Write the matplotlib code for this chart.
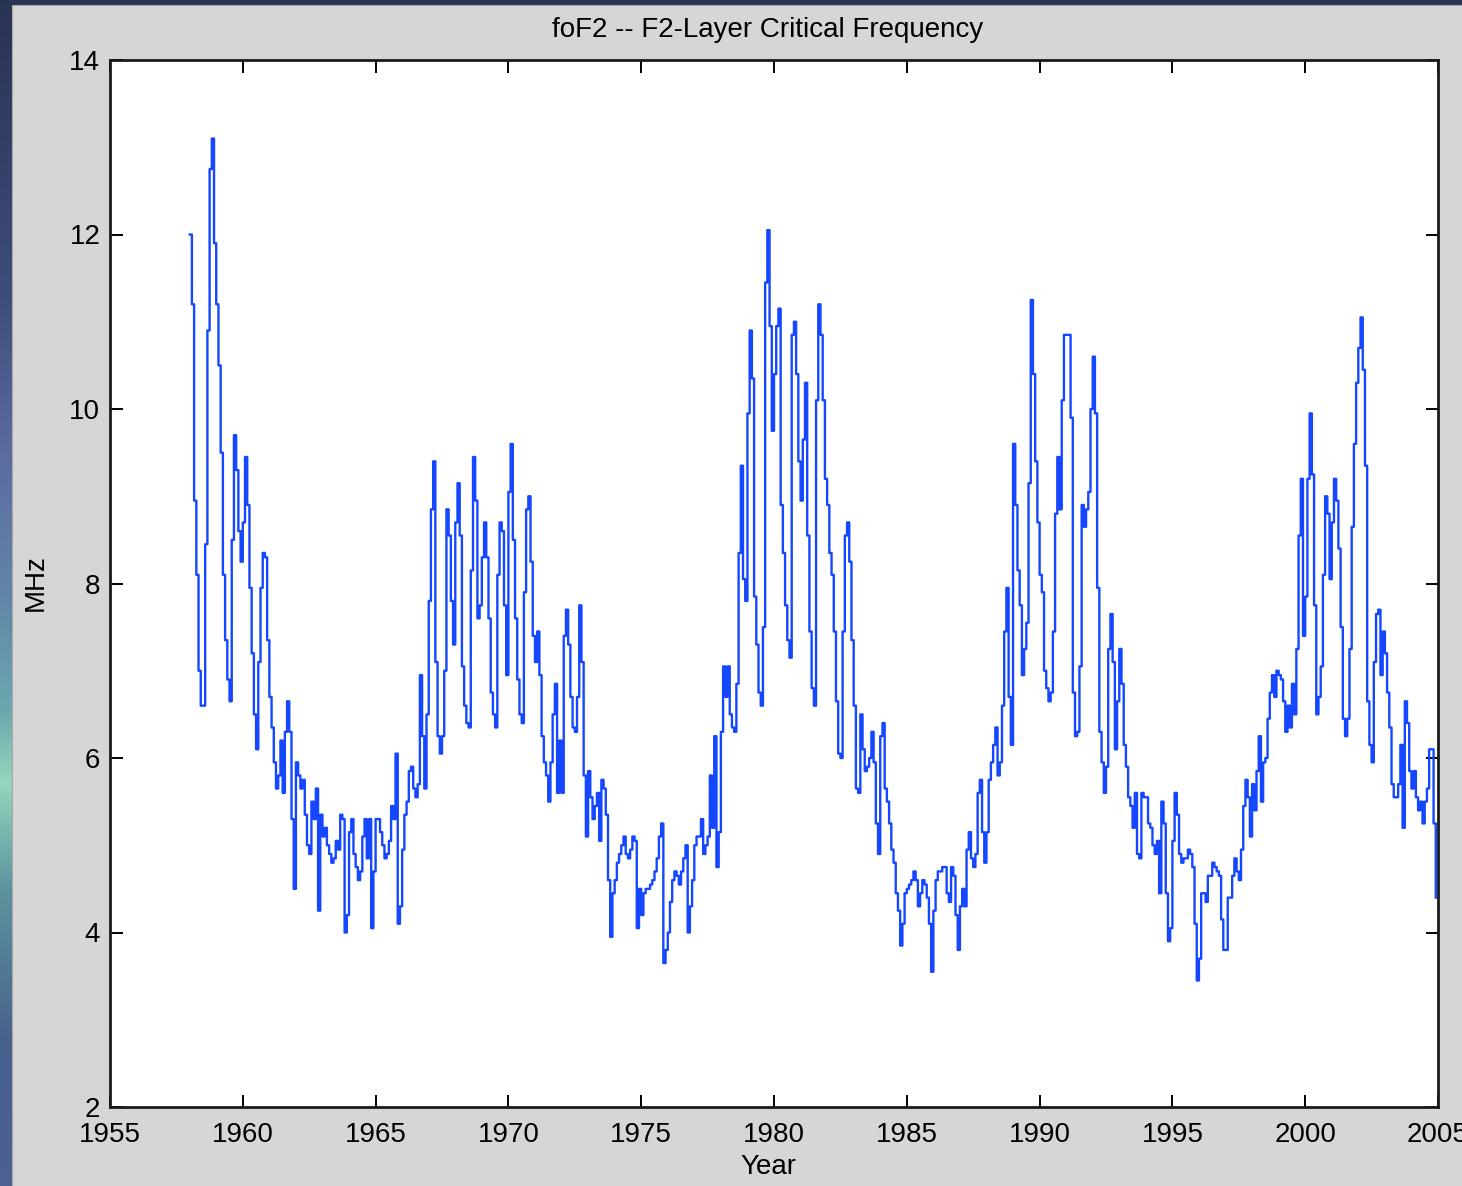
import numpy as np
import matplotlib
matplotlib.use('Agg')
import matplotlib.pyplot as plt
from matplotlib.patches import Rectangle

# monthly median foF2 (MHz), Jan..Dec of each year
fof2_1958 = [12.0, 11.2, 8.95, 8.1, 7.0, 6.6, 6.6, 8.45, 10.9, 12.75, 13.1, 11.9]
fof2_1959 = [11.2, 10.5, 9.5, 8.1, 7.35, 6.9, 6.65, 8.5, 9.7, 9.3, 8.6, 8.25]
fof2_1960 = [8.7, 9.45, 8.9, 7.95, 7.2, 6.5, 6.1, 7.1, 7.95, 8.35, 8.3, 7.35]
fof2_1961 = [6.7, 6.35, 5.95, 5.65, 5.8, 6.2, 5.6, 6.3, 6.65, 6.3, 5.3, 4.5]
fof2_1962 = [5.95, 5.8, 5.65, 5.75, 5.35, 5.0, 4.9, 5.5, 5.3, 5.65, 4.25, 5.35]
fof2_1963 = [5.1, 5.2, 5.0, 4.9, 4.8, 4.85, 5.05, 4.95, 5.35, 5.3, 4.0, 4.2]
fof2_1964 = [5.15, 5.3, 4.9, 4.75, 4.6, 4.7, 5.1, 5.3, 4.85, 5.3, 4.05, 4.7]
fof2_1965 = [5.3, 5.3, 5.15, 5.0, 4.85, 4.9, 5.05, 5.45, 5.3, 6.05, 4.1, 4.3]
fof2_1966 = [4.95, 5.35, 5.5, 5.85, 5.9, 5.65, 5.55, 5.7, 6.95, 6.25, 5.65, 6.5]
fof2_1967 = [7.8, 8.85, 9.4, 7.1, 6.25, 6.05, 6.25, 7.0, 8.85, 8.55, 7.8, 7.3]
fof2_1968 = [8.7, 9.15, 8.55, 7.05, 6.6, 6.4, 6.35, 8.15, 9.45, 8.95, 7.6, 7.75]
fof2_1969 = [8.3, 8.7, 8.3, 7.6, 6.75, 6.5, 6.35, 8.1, 8.7, 8.6, 7.75, 6.95]
fof2_1970 = [9.05, 9.6, 8.5, 7.6, 6.9, 6.5, 6.4, 7.9, 8.85, 9.0, 8.25, 7.4]
fof2_1971 = [7.1, 7.45, 6.95, 6.25, 5.95, 5.8, 5.5, 5.95, 6.5, 6.85, 5.6, 6.2]
fof2_1972 = [5.6, 7.4, 7.7, 7.3, 6.7, 6.35, 6.3, 6.7, 7.75, 7.1, 5.8, 5.1]
fof2_1973 = [5.85, 5.55, 5.3, 5.45, 5.6, 5.05, 5.75, 5.65, 5.35, 4.6, 3.95, 4.45]
fof2_1974 = [4.6, 4.8, 4.9, 5.0, 5.1, 4.9, 4.85, 4.95, 5.1, 5.05, 4.05, 4.5]
fof2_1975 = [4.2, 4.45, 4.5, 4.5, 4.55, 4.6, 4.7, 4.85, 5.1, 5.25, 3.65, 3.8]
fof2_1976 = [4.0, 4.35, 4.6, 4.7, 4.65, 4.55, 4.7, 4.85, 5.0, 4.0, 4.3, 4.6]
fof2_1977 = [5.0, 5.1, 5.1, 5.3, 4.9, 5.0, 5.1, 5.8, 5.2, 6.25, 4.75, 5.15]
fof2_1978 = [6.3, 7.05, 6.7, 7.05, 6.5, 6.35, 6.3, 6.85, 8.35, 9.35, 8.05, 7.8]
fof2_1979 = [9.95, 10.9, 10.35, 7.85, 7.3, 6.75, 6.6, 7.5, 11.45, 12.05, 10.95, 9.75]
fof2_1980 = [10.4, 10.95, 11.15, 8.9, 8.35, 7.75, 7.35, 7.15, 10.85, 11.0, 10.4, 9.4]
fof2_1981 = [8.95, 9.65, 10.3, 8.55, 7.45, 6.8, 6.6, 10.1, 11.2, 10.85, 10.1, 9.2]
fof2_1982 = [8.9, 8.35, 8.1, 7.45, 6.65, 6.05, 6.0, 7.45, 8.55, 8.7, 8.25, 7.35]
fof2_1983 = [6.6, 5.65, 5.6, 6.5, 6.1, 5.85, 5.9, 6.0, 6.3, 5.95, 5.25, 4.9]
fof2_1984 = [6.25, 6.4, 5.65, 5.5, 5.25, 4.95, 4.8, 4.45, 4.25, 3.85, 4.1, 4.45]
fof2_1985 = [4.5, 4.55, 4.6, 4.7, 4.6, 4.3, 4.45, 4.6, 4.55, 4.4, 4.1, 3.55]
fof2_1986 = [4.25, 4.6, 4.7, 4.7, 4.75, 4.75, 4.45, 4.35, 4.75, 4.65, 4.2, 3.8]
fof2_1987 = [4.3, 4.5, 4.3, 4.95, 5.15, 4.85, 4.75, 4.9, 5.6, 5.75, 5.15, 4.8]
fof2_1988 = [5.15, 5.75, 5.95, 6.15, 6.35, 5.8, 5.95, 6.6, 7.45, 7.95, 6.7, 6.15]
fof2_1989 = [9.6, 8.9, 8.15, 7.75, 6.95, 7.25, 7.55, 9.15, 11.25, 10.4, 9.4, 8.7]
fof2_1990 = [8.1, 7.9, 7.0, 6.8, 6.65, 6.75, 7.45, 8.8, 9.45, 8.85, 10.1, 10.85]
fof2_1991 = [10.85, 10.85, 9.9, 6.75, 6.25, 6.3, 7.05, 8.9, 8.65, 8.85, 9.05, 10.0]
fof2_1992 = [10.6, 9.95, 7.95, 6.3, 5.95, 5.6, 5.9, 7.25, 7.65, 7.1, 6.1, 6.65]
fof2_1993 = [7.25, 6.85, 6.15, 5.9, 5.55, 5.45, 5.2, 5.6, 4.9, 4.85, 5.6, 5.55]
fof2_1994 = [5.55, 5.25, 5.2, 5.0, 4.9, 5.05, 4.45, 5.5, 5.25, 4.45, 3.9, 4.05]
fof2_1995 = [5.05, 5.6, 5.35, 4.9, 4.8, 4.85, 4.85, 4.95, 4.9, 4.75, 4.1, 3.45]
fof2_1996 = [3.7, 4.45, 4.45, 4.35, 4.65, 4.65, 4.8, 4.75, 4.7, 4.65, 4.15, 3.8]
fof2_1997 = [3.8, 4.4, 4.4, 4.65, 4.85, 4.7, 4.6, 4.95, 5.45, 5.75, 5.55, 5.1]
fof2_1998 = [5.7, 5.4, 5.85, 6.25, 5.5, 5.95, 6.0, 6.45, 6.75, 6.95, 6.7, 7.0]
fof2_1999 = [6.95, 6.9, 6.65, 6.3, 6.6, 6.35, 6.85, 6.5, 7.25, 8.55, 9.2, 7.4]
fof2_2000 = [7.85, 9.2, 9.95, 9.25, 7.75, 6.5, 6.7, 7.05, 8.1, 9.0, 8.8, 8.05]
fof2_2001 = [8.7, 9.2, 8.95, 8.4, 7.5, 6.45, 6.25, 6.45, 7.25, 8.65, 9.6, 10.3]
fof2_2002 = [10.7, 11.05, 10.45, 9.35, 6.65, 6.15, 5.95, 7.1, 7.65, 7.7, 6.95, 7.45]
fof2_2003 = [7.2, 6.75, 6.35, 5.7, 5.55, 5.55, 5.7, 6.15, 5.2, 6.65, 6.4, 5.85]
fof2_2004 = [5.65, 5.85, 5.55, 5.4, 5.5, 5.25, 5.5, 5.65, 6.1, 6.1, 5.25, 4.4]

first_year = 1958
x_ticks = [1955, 1960, 1965, 1970, 1975, 1980, 1985, 1990, 1995, 2000, 2005]
y_ticks = [2, 4, 6, 8, 10, 12, 14]

fof2 = np.concatenate([
    fof2_1958, fof2_1959, fof2_1960, fof2_1961, fof2_1962, fof2_1963,
    fof2_1964, fof2_1965, fof2_1966, fof2_1967, fof2_1968, fof2_1969,
    fof2_1970, fof2_1971, fof2_1972, fof2_1973, fof2_1974, fof2_1975,
    fof2_1976, fof2_1977, fof2_1978, fof2_1979, fof2_1980, fof2_1981,
    fof2_1982, fof2_1983, fof2_1984, fof2_1985, fof2_1986, fof2_1987,
    fof2_1988, fof2_1989, fof2_1990, fof2_1991, fof2_1992, fof2_1993,
    fof2_1994, fof2_1995, fof2_1996, fof2_1997, fof2_1998, fof2_1999,
    fof2_2000, fof2_2001, fof2_2002, fof2_2003, fof2_2004,
])
t = first_year + np.arange(len(fof2)) / 12.0

plt.rcParams['font.family'] = ['Liberation Sans Narrow', 'Liberation Sans', 'DejaVu Sans']

W, H = 1462, 1186
fig = plt.figure(figsize=(W / 100, H / 100), dpi=100)

# desktop behind the window: a bluish strip along the left/top edge
bg = fig.add_axes([0, 0, 1, 1], zorder=0)
bg.set_axis_off()
stops = np.array([0.0, 0.25, 0.38, 0.5, 0.6, 0.66, 0.75, 0.88, 1.0])
cols = np.array([
    [0.16, 0.20, 0.33],
    [0.25, 0.30, 0.48],
    [0.36, 0.42, 0.62],
    [0.38, 0.52, 0.66],
    [0.42, 0.66, 0.68],
    [0.58, 0.84, 0.74],
    [0.36, 0.58, 0.62],
    [0.28, 0.38, 0.55],
    [0.30, 0.38, 0.58],
])
yy = np.linspace(0, 1, 400)
grad = np.stack([np.interp(yy, stops, cols[:, k]) for k in range(3)], axis=1)
bg.imshow(grad[:, None, :], aspect='auto', extent=[0, 1, 0, 1], origin='upper')
bg.set_xlim(0, 1)
bg.set_ylim(0, 1)

# figure window
bg.add_patch(Rectangle((12 / W, 0), 1, 1 - 5 / H, facecolor='#d6d6d6',
                       edgecolor='#a8a8a8', linewidth=0.8, zorder=2))

ax = fig.add_axes([110 / W, (H - 1107) / H, 1328 / W, 1047 / H], zorder=1)
ax.set_facecolor('white')
ax.step(t, fof2, where='post', color='#1447ff', linewidth=1.7)

ax.set_xlim(1955, 2005)
ax.set_ylim(2, 14)
ax.set_xticks(x_ticks)
ax.set_yticks(y_ticks)
ax.tick_params(direction='in', length=9, width=1.4, top=True, right=True,
               labelsize=20, colors='black')
ax.tick_params(axis='x', pad=11)
ax.tick_params(axis='y', pad=7)
for s in ax.spines.values():
    s.set_linewidth(2.0)
    s.set_color('#1a1a1a')

fig.text(768 / W, 1 - 30 / H, 'foF2 -- F2-Layer Critical Frequency',
         ha='center', va='center', fontsize=20, zorder=3)
fig.text(768 / W, 1 - 1167 / H, 'Year', ha='center', va='center',
         fontsize=20, zorder=3)
fig.text(36 / W, 1 - 583 / H, 'MHz', ha='center', va='center',
         rotation=90, fontsize=20, zorder=3)

fig.savefig('out.png', dpi=100)
